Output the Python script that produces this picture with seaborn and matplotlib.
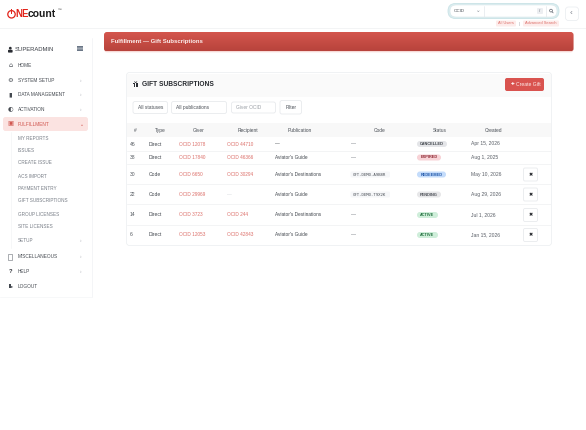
import numpy as np
import matplotlib
matplotlib.use("Agg")
import matplotlib.pyplot as plt
from matplotlib.patches import FancyBboxPatch, Rectangle, Circle
import seaborn as sns

sns.set_theme(style="white")
plt.rcParams['font.family'] = ['Liberation Sans', 'DejaVu Sans']

# ---------- content ----------
menu_main = ["HOME", "SYSTEM SETUP", "DATA MANAGEMENT", "ACTIVATION", "FULFILLMENT"]
menu_sub = ["MY REPORTS", "ISSUES", "CREATE ISSUE", "ACS IMPORT", "PAYMENT ENTRY",
            "GIFT SUBSCRIPTIONS", "GROUP LICENSES", "SITE LICENSES", "SETUP"]
menu_tail = ["MISCELLANEOUS", "HELP", "LOGOUT"]
columns = ["#", "Type", "Giver", "Recipient", "Publication", "Code", "Status", "Created"]
ids = ["46", "38", "30", "22", "14", "6"]
types = ["Direct", "Direct", "Code", "Code", "Direct", "Direct"]
givers = ["OCID 12078", "OCID 17840", "OCID 6650", "OCID 29969", "OCID 3723", "OCID 12053"]
recipients = ["OCID 44710", "OCID 46366", "OCID 30294", "—", "OCID 244", "OCID 42843"]
publications = ["—", "Aviator's Guide", "Aviator's Destinations", "Aviator's Guide",
                "Aviator's Destinations", "Aviator's Guide"]
codes = ["—", "—", "GFT-DEMO-A9B8R", "GFT-DEMO-T9X2K", "—", "—"]
statuses = ["CANCELLED", "EXPIRED", "REDEEMED", "PENDING", "ACTIVE", "ACTIVE"]
created = ["Apr 15, 2026", "Aug 1, 2025", "May 10, 2026", "Aug 29, 2026", "Jul 1, 2026", "Jan 15, 2026"]
filters = ["All statuses", "All publications", "Giver OCID", "Filter"]

# ---------- layout / style ----------
W, H = 586, 430
RED = "#d9534f"
LINK = "#dc6f69"
DARK = "#33373d"
status_style = {"CANCELLED": ("#e4e5e8", "#3d4248", 417, 447),
                "EXPIRED": ("#f8d3d7", "#8c2530", 417, 441),
                "REDEEMED": ("#c4dcfb", "#1f56a8", 417, 446),
                "PENDING": ("#e7e7e9", "#4a4e55", 417, 441),
                "ACTIVE": ("#cfeeda", "#1c6b39", 417, 438)}
row_y = [144, 157.5, 174.5, 194.5, 215, 235]
row_lines = [150.5, 164, 184, 204, 224.5]
col_left = [130, 149, 179, 227, 275, 351, 417, 471]
col_center = [135.5, 160, 199, 247.5, 300, 380, 440, 493.5]

fig = plt.figure(figsize=(W / 100, H / 100), dpi=100, facecolor="white")
ax = fig.add_axes([0, 0, 1, 1])
ax.set_xlim(0, W)
ax.set_ylim(H, 0)
ax.axis("off")


def rbox(x0, y0, x1, y1, fc, ec="none", r=2, lw=0.5, z=2):
    p = FancyBboxPatch((x0 + r, y0 + r), x1 - x0 - 2 * r, y1 - y0 - 2 * r,
                       boxstyle=f"round,pad={r},rounding_size={r}",
                       fc=fc, ec=ec, lw=lw, zorder=z)
    ax.add_patch(p)
    return p


def txt(x, y, s, size=3.5, color=DARK, ha="left", weight="normal", z=5, **kw):
    ax.text(x, y, s, fontsize=size, color=color, ha=ha, va="center",
            fontweight=weight, zorder=z, **kw)


def gift_icon(x, y, col):
    ax.add_patch(Rectangle((x - 2.4, y - 1.2), 4.8, 1.3, fc=col, ec="none", zorder=5))
    ax.add_patch(Rectangle((x - 2, y + 0.4), 4, 2.3, fc=col, ec="none", zorder=5))
    ax.add_patch(Rectangle((x - 0.3, y - 1.2), 0.6, 3.9, fc="white", ec="none", zorder=6))
    ax.plot([x - 1.2, x, x + 1.2], [y - 2.4, y - 1.3, y - 2.4], color=col, lw=0.5, zorder=5)


# header
ax.add_patch(Rectangle((0, 28), W, 0.7, fc="#f3f4f5", ec="none", zorder=1))
ax.add_patch(Circle((11.5, 14.3), 3.7, fc="none", ec="#e2231a", lw=0.9, zorder=3))
ax.add_patch(Rectangle((10.6, 8.8), 1.8, 4.5, fc="white", ec="none", zorder=3.5))
ax.add_patch(Rectangle((11.1, 9.4), 0.8, 4.3, fc="#e2231a", ec="none", zorder=4))
txt(15.2, 14.3, "NE", size=7.0, color="#e2231a", weight="bold")
txt(27.8, 14.3, "count", size=7.5, color="#1b1b1b", weight="bold")
txt(57.2, 10.3, "™", size=2.6, color="#333333")

# search box
rbox(448, 3.5, 559, 18.5, "#dceef0", ec="#c9e2e6", r=7.5, lw=0.6)
rbox(450, 5, 557, 17, "white", ec="#d8e6ea", r=6, lw=0.4, z=3)
txt(454, 11, "OCID", size=3.2, color="#444a52")
txt(478.5, 10.6, "⌄", size=4, color="#8a9099", ha="center")
ax.plot([483.5, 483.5], [5.5, 16.5], color="#e3e8ec", lw=0.5, zorder=4)
rbox(537, 8, 543, 14, "#eceef1", r=1, z=4)
txt(540, 11, "/", size=3.2, color="#666c75", ha="center")
ax.plot([545.5, 545.5], [5.5, 16.5], color="#e3e8ec", lw=0.5, zorder=4)
ax.add_patch(Circle((551, 10.6), 1.4, fc="none", ec="#5f6670", lw=0.5, zorder=5))
ax.plot([552, 553.2], [11.7, 12.9], color="#5f6670", lw=0.5, zorder=5)
rbox(565.5, 7, 578.5, 20.5, "white", ec="#e8ebef", r=3, lw=0.5)
txt(571.5, 13.5, "‹", size=6, color="#7a808a", ha="center")
rbox(496, 20.5, 516, 26.5, "#fdeceb", r=1)
txt(506, 23.5, "All Users", size=2.9, color=LINK, ha="center")
txt(519.5, 23.5, "|", size=3, color="#9aa0a8", ha="center")
rbox(523, 20.5, 559, 26.5, "#fdeceb", r=1)
txt(541, 23.5, "Advanced Search", size=2.9, color=LINK, ha="center")

# sidebar
ax.plot([91.5, 91.5], [38, 297], color="#f3f4f6", lw=0.6, zorder=1)
ax.plot([0, 91.5], [296.5, 296.5], color="#f6f7f8", lw=0.6, zorder=1)
ax.plot([10.5, 10.5], [132, 248], color="#f5f6f7", lw=0.6, zorder=1)
ax.add_patch(Circle((10.3, 48.2), 1.4, fc="#2a2d33", ec="none", zorder=5))
rbox(8, 49.8, 12.6, 52.6, "#2a2d33", r=0.8, z=5)
txt(14.3, 49.8, "SUPERADMIN", size=4.25, color="#3a3e45")
ax.add_patch(Rectangle((77, 46.3), 5.6, 4.6, fc="#6a7686", ec="none", zorder=3))
for yy in (47.8, 49.3):
    ax.plot([77, 82.6], [yy, yy], color="white", lw=0.3, zorder=4)

main_y = [65.5, 80, 95, 109.5, 124]
glyphs = ["⌂", "⚙", "▮", "◐", "▣"]
rbox(3, 117, 88, 131, "#fbe3e1", r=2.5, z=1.5)
for name, y, g in zip(menu_main, main_y, glyphs):
    active = name == "FULFILLMENT"
    col = "#d0564f" if active else "#43484f"
    txt(10.5, y, g, size=4.6, color=col, ha="center", family=["DejaVu Sans"])
    txt(17.8, y, name, size=3.4, color=col)
    if name != "HOME":
        txt(81, y, "⌄" if active else "›", size=3.4, color=col if active else "#b0b4ba", ha="center")

sub_y = [138, 150, 163, 176, 189, 201, 214, 227, 240]
for name, y in zip(menu_sub, sub_y):
    txt(18, y, name, size=3.3, color="#767c85")
txt(81, 240, "›", size=3.4, color="#b0b4ba", ha="center")

tail_y = [257, 271.5, 286]
for name, y in zip(menu_tail, tail_y):
    txt(17.8, y, name, size=3.4, color="#43484f")
    if name != "LOGOUT":
        txt(81, y, "›", size=3.4, color="#b0b4ba", ha="center")
ax.add_patch(Rectangle((8.3, 254), 4, 6, fc="white", ec="#6a7078", lw=0.4, zorder=4))
txt(10.5, 271.5, "?", size=4.2, color="#2f3238", ha="center", weight="bold")
ax.add_patch(Rectangle((8.5, 284.3), 2.4, 3.4, fc="#43484f", ec="none", zorder=4))
txt(11.2, 286, "▸", size=3.2, color="#43484f", family=["DejaVu Sans"])

# banner with vertical gradient
rbox(104, 32, 573.5, 52.3, "#f7d9d6", r=3, z=1.5)
grad = np.linspace(0, 1, 32)[:, None]
cmap = matplotlib.colors.LinearSegmentedColormap.from_list("b", ["#d5574e", "#b8433c"])
im = ax.imshow(grad, extent=(104, 573.5, 51.5, 32), cmap=cmap, aspect="auto", zorder=2)
clip = rbox(104, 32, 573.5, 51.5, "none", r=3, z=2)
im.set_clip_path(clip)
ax.set_xlim(0, W)
ax.set_ylim(H, 0)
txt(111, 41.5, "Fulfillment — Gift Subscriptions", size=4.3, color="#fbeeec", weight="bold")

# card
rbox(126.5, 72.5, 551.5, 245.5, "white", ec="#eef0f2", r=3, lw=0.6, z=1.2)
ax.add_patch(Rectangle((127, 73.5), 424, 23.5, fc="#fafafa", ec="none", zorder=1.5))
gift_icon(135.7, 84, "#2c2f35")
txt(141.5, 84.2, "GIFT SUBSCRIPTIONS", size=4.75, color="#26292e", weight="bold")
rbox(505, 78, 544, 91, RED, r=2)
txt(510.5, 84, "✚", size=3.2, color="white", family=["DejaVu Sans"])
txt(516, 84.2, "Create Gift", size=3.6, color="#fdeceb")

# filters
fx = [(133, 167.5), (171.5, 226.5), (231.5, 275.5), (280, 301.5)]
fy = [(101.5, 113.5), (101.5, 113.5), (102, 113), (100.5, 114)]
for label, (x0, x1), (y0, y1) in zip(filters, fx, fy):
    rbox(x0, y0, x1, y1, "white", ec="#e8eaed", r=2, lw=0.6)
    is_input = label == "Giver OCID"
    txt(x0 + 5 if label != "Filter" else (x0 + x1) / 2, 107.5, label, size=3.5,
        color="#9a9fa6" if is_input else "#4a4f56", ha="left" if label != "Filter" else "center")

# table
ax.add_patch(Rectangle((127, 123), 424, 14, fc="#f8f8f8", ec="none", zorder=1.5))
for label, x in zip(columns, col_center):
    txt(x, 130.5, label, size=3.5, color="#4a4f56", ha="center")
for y in row_lines:
    ax.plot([127, 551], [y, y], color="#f1f2f4", lw=0.6, zorder=1.6)

for i, y in enumerate(row_y):
    txt(col_left[0], y, ids[i], size=3.6, color="#50555c")
    txt(col_left[1], y, types[i], size=3.6, color="#43484f")
    txt(col_left[2], y, givers[i], size=3.45, color=LINK)
    rc = recipients[i]
    txt(col_left[3], y, rc, size=3.45, color=LINK if rc != "—" else "#d3d6da")
    txt(col_left[4], y, publications[i], size=3.45, color="#43484f")
    if codes[i] == "—":
        txt(col_left[5], y, "—", size=3.6, color="#6b7078")
    else:
        rbox(350.5, y - 3, 390, y + 3, "#f6f7f9", r=1.5)
        txt(352.8, y, codes[i], size=2.85, color="#4a4f56", family=["DejaVu Sans Mono"])
    fc, tc, x0, x1 = status_style[statuses[i]]
    rbox(x0, y - 3, x1, y + 3, fc, r=2.9)
    txt((x0 + x1) / 2, y, statuses[i], size=2.8, color=tc, ha="center", weight="bold")
    txt(col_left[7], y, created[i], size=3.6, color="#5a5f67")
    if i >= 2:
        rbox(523.5, y - 6.5, 537.5, y + 6.5, "white", ec="#e8eaed", r=1.5, lw=0.6)
        txt(530.5, y, "✖", size=3.6, color="#22252a", ha="center", family=["DejaVu Sans"])

sns.despine(ax=ax, left=True, bottom=True)
fig.savefig("out.png", dpi=100)
